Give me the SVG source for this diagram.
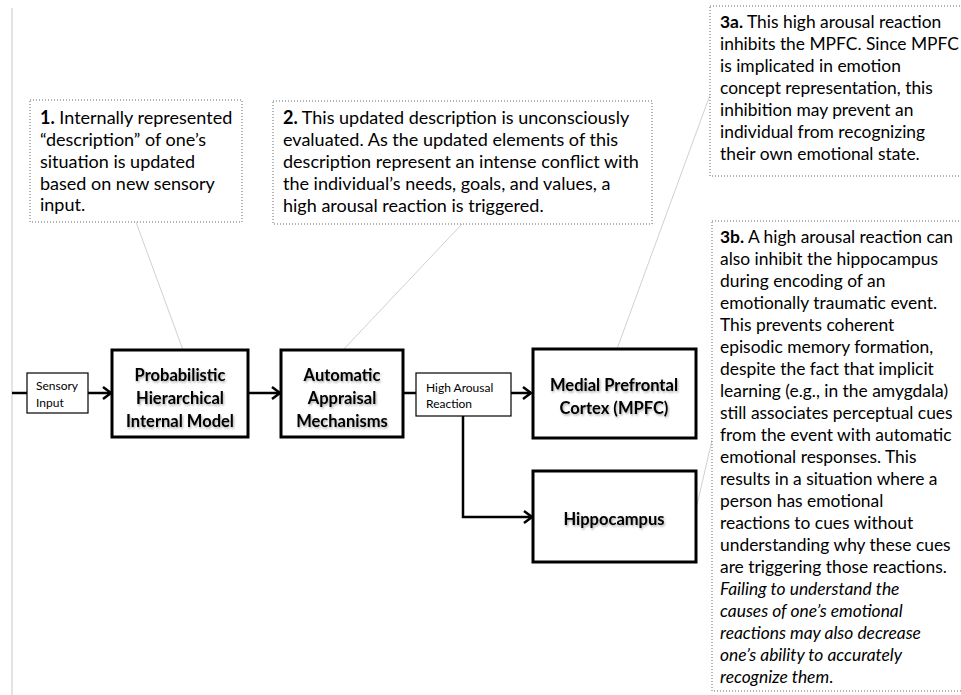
<svg xmlns="http://www.w3.org/2000/svg" width="961" height="695" viewBox="0 0 961 695">
<style>
.box{fill:#fff;stroke:#000;stroke-width:3}
.sbox{fill:#fff;stroke:#000;stroke-width:1.2}
.note{fill:#fff;stroke:#666;stroke-width:1;stroke-dasharray:1,2}
.lead{stroke:#d0d0d0;stroke-width:1;fill:none}
.arr{stroke:#000;stroke-width:2.5;fill:none}
.bt{font-family:Lato,"Liberation Sans",sans-serif;font-weight:bold;font-size:16.5px;text-anchor:middle;fill:#000}
.st{font-family:Lato,"Liberation Sans",sans-serif;font-size:12px;fill:#000}
.nt{font-family:Lato,"Liberation Sans",sans-serif;font-size:18px;fill:#000}
.rt{font-size:17.4px}
.b{font-weight:bold}
.i{font-style:italic}
</style>
<defs>
<marker id="ah" markerUnits="userSpaceOnUse" markerWidth="14" markerHeight="16" refX="11" refY="8" orient="auto">
<path d="M3,2 L11,8 L3,14" fill="none" stroke="#000" stroke-width="2.5"/>
</marker>
<filter id="sh" x="-10%" y="-20%" width="120%" height="150%">
<feDropShadow dx="1" dy="1.5" stdDeviation="1" flood-color="#000" flood-opacity="0.35"/>
</filter>
</defs>
<line x1="12" y1="8" x2="12" y2="695" stroke="#c8c8c8" stroke-width="1"/>
<g id="connectors">
<line class="lead" x1="136" y1="222" x2="183" y2="350"/>
<line class="lead" x1="462" y1="224" x2="343" y2="350"/>
<line class="lead" x1="710" y1="95" x2="617" y2="349"/>
<line class="lead" x1="712" y1="440" x2="697" y2="505"/>
<line class="arr" x1="12" y1="393" x2="27" y2="393"/>
<line class="arr" x1="88" y1="393" x2="111" y2="393" marker-end="url(#ah)"/>
<line class="arr" x1="248" y1="393" x2="280" y2="393" marker-end="url(#ah)"/>
<line class="arr" x1="403" y1="393" x2="416" y2="393"/>
<line class="arr" x1="511" y1="393" x2="531" y2="393" marker-end="url(#ah)"/>
<polyline class="arr" points="463,416 463,517 532,517" marker-end="url(#ah)"/>
</g>
<g id="sensory">
<rect class="sbox" x="27" y="373" width="61" height="40"/>
<text class="st" x="36" y="390">Sensory</text>
<text class="st" x="36" y="407">Input</text>
</g>
<g id="model">
<rect class="box" x="112" y="350" width="136" height="87"/>
<g filter="url(#sh)">
<text class="bt" x="180" y="381">Probabilistic</text>
<text class="bt" x="180" y="404">Hierarchical</text>
<text class="bt" x="180" y="427">Internal Model</text>
</g>
</g>
<g id="appraisal">
<rect class="box" x="281" y="350" width="122" height="87"/>
<g filter="url(#sh)">
<text class="bt" x="342" y="381">Automatic</text>
<text class="bt" x="342" y="404">Appraisal</text>
<text class="bt" x="342" y="427">Mechanisms</text>
</g>
</g>
<g id="arousal">
<rect class="sbox" x="416" y="373" width="95" height="43"/>
<text class="st" x="426" y="392">High Arousal</text>
<text class="st" x="426" y="408">Reaction</text>
</g>
<g id="mpfc">
<rect class="box" x="533" y="349" width="163" height="89"/>
<g filter="url(#sh)">
<text class="bt" x="614" y="391">Medial Prefrontal</text>
<text class="bt" x="614" y="414">Cortex (MPFC)</text>
</g>
</g>
<g id="hippocampus">
<rect class="box" x="533" y="471" width="163" height="91"/>
<g filter="url(#sh)">
<text class="bt" x="614" y="525">Hippocampus</text>
</g>
</g>
<g id="note1">
<rect class="note" x="30" y="100" width="212" height="122"/>
<text class="nt" x="40" y="124"><tspan class="b">1.</tspan> Internally represented</text>
<text class="nt" x="40" y="146">“description” of one’s</text>
<text class="nt" x="40" y="168">situation is updated</text>
<text class="nt" x="40" y="190">based on new sensory</text>
<text class="nt" x="40" y="211">input.</text>
</g>
<g id="note2">
<rect class="note" x="273" y="101" width="379" height="123"/>
<text class="nt" x="283" y="124"><tspan class="b">2.</tspan> This updated description is unconsciously</text>
<text class="nt" x="283" y="146">evaluated. As the updated elements of this</text>
<text class="nt" x="283" y="168">description represent an intense conflict with</text>
<text class="nt" x="283" y="190">the individual’s needs, goals, and values, a</text>
<text class="nt" x="283" y="212">high arousal reaction is triggered.</text>
</g>
<g id="note3a">
<rect class="note" x="710" y="6" width="260" height="170"/>
<text class="nt rt" x="720" y="28"><tspan class="b">3a.</tspan> This high arousal reaction</text>
<text class="nt rt" x="720" y="50">inhibits the MPFC. Since MPFC</text>
<text class="nt rt" x="720" y="72">is implicated in emotion</text>
<text class="nt rt" x="720" y="94">concept representation, this</text>
<text class="nt rt" x="720" y="116">inhibition may prevent an</text>
<text class="nt rt" x="720" y="138">individual from recognizing</text>
<text class="nt rt" x="720" y="160">their own emotional state.</text>
</g>
<g id="note3b">
<rect class="note" x="712" y="221" width="260" height="470"/>
<text class="nt rt" x="720" y="243"><tspan class="b">3b.</tspan> A high arousal reaction can</text>
<text class="nt rt" x="720" y="265">also inhibit the hippocampus</text>
<text class="nt rt" x="720" y="287">during encoding of an</text>
<text class="nt rt" x="720" y="309">emotionally traumatic event.</text>
<text class="nt rt" x="720" y="331">This prevents coherent</text>
<text class="nt rt" x="720" y="353">episodic memory formation,</text>
<text class="nt rt" x="720" y="375">despite the fact that implicit</text>
<text class="nt rt" x="720" y="397">learning (e.g., in the amygdala)</text>
<text class="nt rt" x="720" y="419">still associates perceptual cues</text>
<text class="nt rt" x="720" y="441">from the event with automatic</text>
<text class="nt rt" x="720" y="463">emotional responses. This</text>
<text class="nt rt" x="720" y="485">results in a situation where a</text>
<text class="nt rt" x="720" y="507">person has emotional</text>
<text class="nt rt" x="720" y="529">reactions to cues without</text>
<text class="nt rt" x="720" y="551">understanding why these cues</text>
<text class="nt rt" x="720" y="573">are triggering those reactions.</text>
<text class="nt rt i" x="720" y="595">Failing to understand the</text>
<text class="nt rt i" x="720" y="617">causes of one’s emotional</text>
<text class="nt rt i" x="720" y="639">reactions may also decrease</text>
<text class="nt rt i" x="720" y="661">one’s ability to accurately</text>
<text class="nt rt" x="720" y="683"><tspan class="i">recognize them</tspan>.</text>
</g>
</svg>
